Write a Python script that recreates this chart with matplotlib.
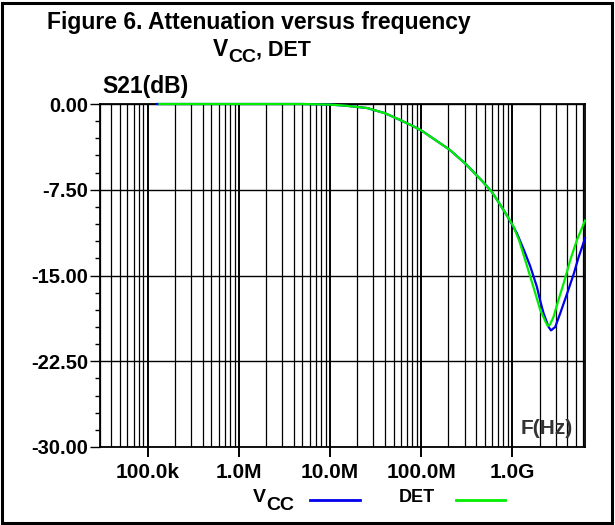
import matplotlib
matplotlib.use("Agg")
import matplotlib.pyplot as plt
from matplotlib.ticker import FixedLocator, NullFormatter, LogLocator
from matplotlib.patches import Rectangle
import numpy as np

plt.rcParams['font.family'] = ['Liberation Sans', 'DejaVu Sans']
plt.rcParams['font.weight'] = 'bold'

# ---- data ----
title_line1 = "Figure 6. Attenuation versus frequency"
y_label = "S21(dB)"
x_label = "F(Hz)"

x_tick_values = [1e5, 1e6, 1e7, 1e8, 1e9]
x_tick_labels = ["100.0k", "1.0M", "10.0M", "100.0M", "1.0G"]
y_tick_values = [0.0, -7.5, -15.0, -22.5, -30.0]
y_tick_labels = ["0.00", "-7.50", "-15.00", "-22.50", "-30.00"]

freq_vcc = [1.25e5, 1e6, 5e6, 1e7, 1.5e7, 2.55e7, 4e7, 5.9e7, 8e7, 1e8, 1.35e8,
            2.06e8, 3.1e8, 4.7e8, 6e8, 7.38e8, 9.0e8, 1.126e9, 1.35e9, 1.58e9,
            1.87e9, 2.03e9, 2.21e9, 2.51e9, 2.67e9, 2.97e9, 3.37e9, 4.0e9,
            4.72e9, 5.36e9, 6.3e9]
s21_vcc = [0.0, 0.0, 0.0, -0.05, -0.15, -0.35, -0.8, -1.4, -1.9, -2.3, -3.0,
           -4.0, -5.25, -6.75, -7.7, -8.8, -9.9, -11.3, -12.8, -14.2,
           -16.0, -17.2, -18.3, -19.5, -19.8, -19.5, -18.3, -16.6,
           -14.9, -13.4, -11.75]

freq_det = [1.35e5, 1e6, 5e6, 1e7, 1.5e7, 2.55e7, 4e7, 5.9e7, 8e7, 1e8, 1.35e8,
            2.06e8, 3.1e8, 4.7e8, 6e8, 7.38e8, 9.0e8, 1.033e9, 1.2e9, 1.39e9,
            1.71e9, 2.03e9, 2.31e9, 2.45e9, 2.6e9, 2.85e9, 3.23e9, 3.67e9,
            4.34e9, 5.14e9, 6.3e9]
s21_det = [0.0, 0.0, 0.0, -0.05, -0.15, -0.35, -0.8, -1.4, -1.9, -2.3, -3.0,
           -4.0, -5.25, -6.75, -7.7, -8.8, -9.9, -10.7, -12.0, -13.65,
           -16.0, -18.0, -19.0, -19.4, -19.3, -18.6, -17.1, -15.7,
           -13.65, -11.9, -10.2]

W, H = 615, 525
fig = plt.figure(figsize=(W / 100, H / 100), dpi=100)

def fx(px):
    return px / W

def fy(py):
    return 1 - py / H

ax = fig.add_axes([fx(100), fy(447), fx(585) - fx(100), fy(104) - fy(447)])
ax.set_xscale('log')
ax.set_xlim(3e4, 6.3e9)
ax.set_ylim(-30, 0)

# grid
ax.xaxis.set_major_locator(FixedLocator(x_tick_values))
ax.xaxis.set_minor_locator(LogLocator(base=10, subs=np.arange(2, 10), numticks=20))
ax.xaxis.set_minor_formatter(NullFormatter())
ax.set_xticklabels(x_tick_labels)
ax.yaxis.set_major_locator(FixedLocator(y_tick_values))
ax.yaxis.set_minor_locator(FixedLocator(np.arange(-30, 0.01, 1.5)))
ax.set_yticklabels(y_tick_labels)

ax.grid(which='minor', axis='x', color='black', lw=0.9)
ax.grid(which='major', axis='x', color='black', lw=1.4)
ax.grid(which='major', axis='y', color='black', lw=1.0)

ax.tick_params(axis='x', which='major', direction='out', length=7.5, width=1.4,
               labelsize=15, pad=4)
ax.tick_params(axis='x', which='minor', length=0)
ax.tick_params(axis='y', which='major', direction='out', length=7.5, width=1.0,
               labelsize=14.5, pad=1)
ax.tick_params(axis='y', which='minor', direction='out', length=3.8, width=1.0)
for lab in ax.get_xticklabels() + ax.get_yticklabels():
    lab.set_fontweight('bold')
for sp in ax.spines.values():
    sp.set_linewidth(1.3)

ax.plot(freq_vcc, s21_vcc, color='#0000ee', lw=1.6, clip_on=False, zorder=5)
ax.plot(freq_det, s21_det, color='#00ee00', lw=1.6, clip_on=False, zorder=6)

ax.text(fx(547), fy(429), x_label, transform=fig.transFigure, ha='center', va='center',
        fontsize=15, fontweight='bold', color='#333333', zorder=7)

# figure texts
fig.text(fx(259), fy(22), title_line1, ha='center', va='center', fontsize=16.5,
         fontweight='bold')
fig.text(fx(102), fy(86), y_label, ha='left', va='center', fontsize=16.5,
         fontweight='bold')

renderer = fig.canvas.get_renderer()

def vcc_text(x_left, y_center, size, sub_size, sub_drop, tail=None, tail_size=None):
    t1 = fig.text(fx(x_left), fy(y_center), "V", ha='left', va='center',
                  fontsize=size, fontweight='bold')
    bb = t1.get_window_extent(renderer)
    t2 = fig.text(bb.x1 / W, fy(y_center + sub_drop), "CC", ha='left', va='center',
                  fontsize=sub_size, fontweight='bold')
    if tail:
        bb2 = t2.get_window_extent(renderer)
        fig.text(bb2.x1 / W, fy(y_center), tail, ha='left', va='center',
                 fontsize=tail_size, fontweight='bold')

vcc_text(213, 50, 16.5, 14, 8, tail=", DET", tail_size=15.5)
vcc_text(253, 497, 14, 14, 9)

# legend
fig.add_artist(plt.Line2D([fx(310), fx(360)], [fy(500), fy(500)], color='#0000ee', lw=2))
fig.text(fx(399), fy(498), "DET", ha='left', va='center', fontsize=13, fontweight='bold')
fig.add_artist(plt.Line2D([fx(456), fx(505)], [fy(500), fy(500)], color='#00ee00', lw=2))

# outer frame
fig.add_artist(Rectangle((fx(1.5), fy(522.5)), fx(612) - fx(1.5), fy(2.5) - fy(522.5),
                         transform=fig.transFigure, fill=False, lw=2.2, color='black'))

fig.savefig("out.png", dpi=100)
